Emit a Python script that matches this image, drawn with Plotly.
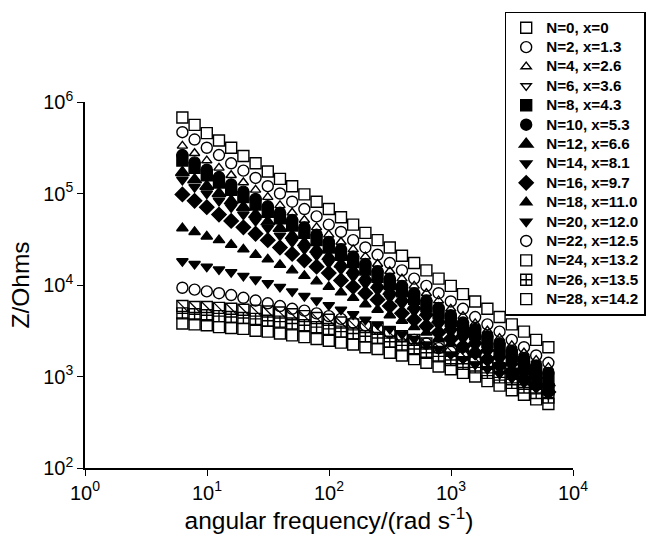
import plotly.graph_objects as go

# angular frequency (rad/s)
omega = [6.283, 7.910, 9.958, 12.54, 15.78, 19.87, 25.01, 31.49, 39.64, 49.90,
         62.83, 79.10, 99.58, 125.4, 157.8, 198.7, 250.1, 314.9, 396.4, 499.0,
         628.3, 791.0, 995.8, 1254, 1578, 1987, 2501, 3149, 3964, 4990, 6283]

# log10 of |Z| (Ohms)
logZ_N0 = [5.83, 5.75, 5.66, 5.58, 5.50, 5.41, 5.33, 5.24, 5.16, 5.08, 4.99, 4.91, 4.83, 4.74, 4.66, 4.57,
           4.49, 4.41, 4.32, 4.24, 4.16, 4.07, 3.99, 3.90, 3.82, 3.74, 3.65, 3.57, 3.49, 3.40, 3.32]
logZ_N2 = [5.67, 5.59, 5.50, 5.42, 5.33, 5.25, 5.17, 5.08, 5.00, 4.91, 4.83, 4.75, 4.66, 4.58, 4.49, 4.41,
           4.33, 4.24, 4.16, 4.07, 3.99, 3.91, 3.82, 3.74, 3.65, 3.57, 3.49, 3.40, 3.32, 3.23, 3.15]
logZ_N4 = [5.52, 5.44, 5.36, 5.28, 5.20, 5.12, 5.04, 4.96, 4.87, 4.79, 4.71, 4.63, 4.55, 4.47, 4.39, 4.31,
           4.23, 4.15, 4.07, 3.99, 3.91, 3.83, 3.74, 3.66, 3.58, 3.50, 3.42, 3.34, 3.26, 3.18, 3.10]
logZ_N6 = [5.40, 5.32, 5.24, 5.16, 5.08, 5.00, 4.93, 4.85, 4.77, 4.69, 4.61, 4.53, 4.45, 4.37, 4.29, 4.22,
           4.14, 4.06, 3.98, 3.90, 3.82, 3.74, 3.66, 3.58, 3.50, 3.43, 3.35, 3.27, 3.19, 3.11, 3.03]
logZ_N8 = [5.36, 5.28, 5.20, 5.12, 5.04, 4.96, 4.88, 4.80, 4.73, 4.65, 4.57, 4.49, 4.41, 4.33, 4.25, 4.17,
           4.09, 4.01, 3.93, 3.85, 3.77, 3.69, 3.61, 3.53, 3.46, 3.38, 3.30, 3.22, 3.14, 3.06, 2.98]
logZ_N10 = [5.42, 5.34, 5.26, 5.18, 5.10, 5.02, 4.94, 4.86, 4.79, 4.71, 4.63, 4.55, 4.47, 4.39, 4.31, 4.23,
            4.15, 4.07, 3.99, 3.91, 3.83, 3.75, 3.67, 3.59, 3.52, 3.44, 3.36, 3.28, 3.20, 3.12, 3.04]
logZ_N12 = [5.23, 5.15, 5.08, 5.00, 4.92, 4.85, 4.77, 4.69, 4.62, 4.54, 4.46, 4.39, 4.31, 4.23, 4.16, 4.08,
            4.00, 3.93, 3.85, 3.77, 3.70, 3.62, 3.54, 3.47, 3.39, 3.31, 3.24, 3.16, 3.08, 3.01, 2.93]
logZ_N14 = [5.15, 5.07, 5.00, 4.92, 4.85, 4.77, 4.70, 4.62, 4.54, 4.47, 4.39, 4.32, 4.24, 4.17, 4.09, 4.01,
            3.94, 3.86, 3.79, 3.71, 3.64, 3.56, 3.48, 3.41, 3.33, 3.26, 3.18, 3.11, 3.03, 2.96, 2.88]
logZ_N16 = [4.99, 4.92, 4.85, 4.77, 4.70, 4.63, 4.56, 4.49, 4.41, 4.34, 4.27, 4.20, 4.13, 4.05, 3.98, 3.91,
            3.84, 3.77, 3.69, 3.62, 3.55, 3.48, 3.41, 3.33, 3.26, 3.19, 3.12, 3.05, 2.97, 2.90, 2.83]
logZ_N18 = [4.62, 4.58, 4.53, 4.49, 4.44, 4.39, 4.33, 4.28, 4.22, 4.16, 4.10, 4.04, 3.98, 3.92, 3.86, 3.79,
            3.73, 3.67, 3.61, 3.54, 3.48, 3.42, 3.36, 3.30, 3.24, 3.18, 3.12, 3.07, 3.01, 2.96, 2.90]
logZ_N20 = [4.26, 4.23, 4.20, 4.17, 4.14, 4.10, 4.06, 4.02, 3.98, 3.93, 3.88, 3.83, 3.78, 3.73, 3.68, 3.62,
            3.57, 3.52, 3.46, 3.41, 3.35, 3.30, 3.24, 3.19, 3.13, 3.08, 3.03, 2.98, 2.93, 2.88, 2.83]
logZ_N22 = [3.97, 3.95, 3.93, 3.91, 3.89, 3.86, 3.83, 3.80, 3.77, 3.74, 3.72, 3.69, 3.66, 3.63, 3.59, 3.56,
            3.52, 3.48, 3.44, 3.40, 3.36, 3.31, 3.27, 3.22, 3.18, 3.13, 3.08, 3.04, 2.99, 2.95, 2.90]
logZ_N24 = [3.77, 3.76, 3.76, 3.75, 3.74, 3.73, 3.72, 3.71, 3.70, 3.68, 3.66, 3.64, 3.62, 3.59, 3.57, 3.54,
            3.52, 3.48, 3.44, 3.40, 3.36, 3.32, 3.28, 3.24, 3.20, 3.14, 3.09, 3.03, 2.97, 2.92, 2.86]
logZ_N26 = [3.69, 3.68, 3.67, 3.66, 3.65, 3.64, 3.63, 3.61, 3.60, 3.58, 3.56, 3.54, 3.52, 3.49, 3.47, 3.44,
            3.42, 3.38, 3.34, 3.30, 3.26, 3.22, 3.18, 3.14, 3.10, 3.04, 2.99, 2.93, 2.88, 2.82, 2.77]
logZ_N28 = [3.58, 3.57, 3.56, 3.54, 3.53, 3.52, 3.50, 3.49, 3.47, 3.45, 3.43, 3.41, 3.39, 3.37, 3.35, 3.32,
            3.30, 3.26, 3.23, 3.19, 3.15, 3.11, 3.08, 3.04, 3.00, 2.95, 2.90, 2.85, 2.80, 2.75, 2.70]

labels = ["N=0, x=0", "N=2, x=1.3", "N=4, x=2.6", "N=6, x=3.6", "N=8, x=4.3", "N=10, x=5.3",
          "N=12, x=6.6", "N=14, x=8.1", "N=16, x=9.7", "N=18, x=11.0", "N=20, x=12.0",
          "N=22, x=12.5", "N=24, x=13.2", "N=26, x=13.5", "N=28, x=14.2"]
series = [logZ_N0, logZ_N2, logZ_N4, logZ_N6, logZ_N8, logZ_N10, logZ_N12, logZ_N14, logZ_N16,
          logZ_N18, logZ_N20, logZ_N22, logZ_N24, logZ_N26, logZ_N28]

x_tickvals = [1, 10, 100, 1000, 10000]
x_ticktext = ["10<sup>0</sup>", "10<sup>1</sup>", "10<sup>2</sup>", "10<sup>3</sup>", "10<sup>4</sup>"]
y_tickvals = [100, 1000, 10000, 100000, 1000000]
y_ticktext = ["10<sup>2</sup>", "10<sup>3</sup>", "10<sup>4</sup>", "10<sup>5</sup>", "10<sup>6</sup>"]

# marker styles (symbol, size)
styles = [("square-open", 11), ("circle-open", 11), ("triangle-up-open", 9), ("triangle-down-open", 9),
          ("square", 11), ("circle", 11), ("triangle-up", 12), ("triangle-down", 10), ("diamond", 11),
          ("triangle-up", 10), ("triangle-down", 10), ("circle-open", 11), ("square-open", 11),
          ("square-cross-open", 11), ("square-open", 11)]

fig = go.Figure()
for name, logs, (sym, sz) in zip(labels, series, styles):
    z = [10 ** v for v in logs]
    fig.add_trace(go.Scatter(
        x=omega, y=z, mode="markers",
        name='<span style="font-size:15.2px">' + name + '</span>',
        marker=dict(symbol=sym, size=sz, color="black", line=dict(color="black", width=1.4)),
    ))
    if name.startswith("N=24"):
        fig.add_trace(go.Scatter(
            x=omega, y=z, mode="markers", showlegend=False, hoverinfo="skip",
            marker=dict(symbol="line-nw", size=10, color="black", line=dict(color="black", width=1.2)),
        ))

font_family = "Liberation Sans, Arial, Helvetica, sans-serif"
axis_common = dict(
    type="log", tickmode="array", showgrid=False, zeroline=False, automargin=False,
    showline=True, linecolor="black", linewidth=1.5, ticks="outside", ticklen=6,
    tickwidth=1.2, tickcolor="black", tickfont=dict(size=20, color="black", family=font_family),
    mirror=False,
)

fig.update_layout(
    width=658, height=534,
    margin=dict(l=85, r=72, t=95, b=66),
    paper_bgcolor="white", plot_bgcolor="white",
    font=dict(family=font_family, color="black"),
    xaxis=dict(range=[0, 4], tickvals=x_tickvals, ticktext=x_ticktext,
               title=dict(text="angular frequency/(rad s<sup>-1</sup>)", font=dict(size=24.5), standoff=4),
               **axis_common),
    yaxis=dict(range=[2, 6], tickvals=y_tickvals, ticktext=y_ticktext,
               title=dict(text="Z/Ohms", font=dict(size=24.5), standoff=7),
               **axis_common),
    legend=dict(
        x=0.86, y=1.247, xanchor="left", yanchor="top", maxheight=520,
        bgcolor="white", bordercolor="black", borderwidth=1.5,
        font=dict(size=12.6, family="Liberation Sans, Arial", color="black", weight="bold"),
        itemsizing="trace", tracegroupgap=0,
    ),
)

fig.write_html("out.html")
